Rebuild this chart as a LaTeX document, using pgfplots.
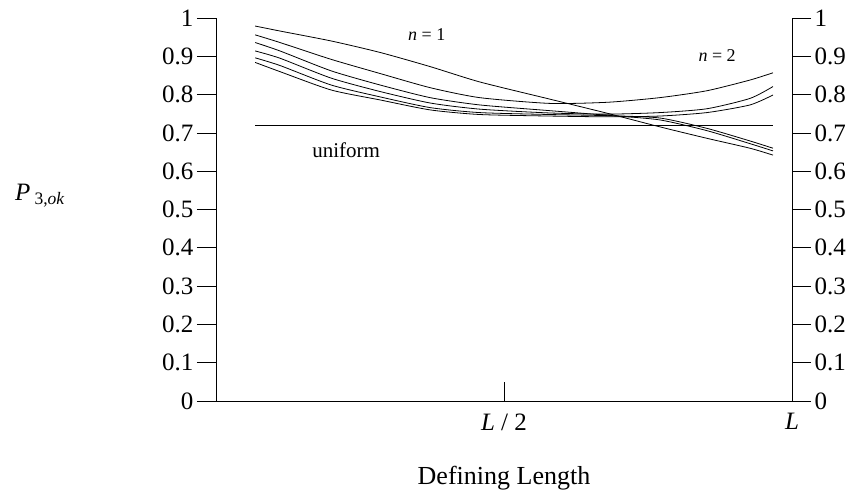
\documentclass[border=0pt]{standalone}
\usepackage{pgfplots}
\pgfplotsset{compat=1.18}
\usepackage{fontspec}
\setmainfont{Liberation Serif}
\pgfplotstableread{
x n1 n2 n3 n4 n5 n6
0.068 0.979 0.956 0.936 0.914 0.896 0.884
0.111 0.966 0.936 0.914 0.895 0.876 0.860
0.200 0.940 0.892 0.862 0.843 0.825 0.812
0.285 0.910 0.855 0.825 0.808 0.794 0.786
0.372 0.873 0.818 0.792 0.778 0.766 0.760
0.458 0.833 0.792 0.773 0.762 0.753 0.748
0.580 0.788 0.777 0.758 0.752 0.748 0.744
0.680 0.751 0.780 0.746 0.749 0.745 0.742
0.770 0.716 0.792 0.734 0.753 0.739 0.744
0.852 0.686 0.810 0.706 0.763 0.712 0.753
0.927 0.660 0.838 0.672 0.790 0.679 0.773
0.967 0.642 0.857 0.653 0.821 0.660 0.799
}\curves
\pgfplotsset{base/.style={
  scale only axis, width=576pt, height=383pt,
  xmin=0, xmax=1, ymin=0, ymax=1,
  at={(216pt,-401pt)}, anchor=south west,
  axis line style={line width=0.8pt, black},
  major tick length=19pt,
  every tick/.style={line width=0.8pt, black},
  tick label style={font=\fontsize{25}{30}\selectfont},
  clip=false}}
\begin{document}
\begin{tikzpicture}[x=1pt,y=1pt]
\useasboundingbox (0,0) rectangle (855,-495);
\begin{axis}[base,
  axis x line*=bottom, axis y line*=left, tick align=outside,
  xtick=\empty,
  ytick={0,0.1,0.2,0.3,0.4,0.5,0.6,0.7,0.8,0.9,1},
  yticklabels={0,0.1,0.2,0.3,0.4,0.5,0.6,0.7,0.8,0.9,1}]
\addplot[black, line width=0.8pt, smooth, tension=0.4] table[x=x,y=n1]{\curves};
\addplot[black, line width=0.8pt, smooth, tension=0.4] table[x=x,y=n2]{\curves};
\addplot[black, line width=0.8pt, smooth, tension=0.4] table[x=x,y=n3]{\curves};
\addplot[black, line width=0.8pt, smooth, tension=0.4] table[x=x,y=n4]{\curves};
\addplot[black, line width=0.8pt, smooth, tension=0.4] table[x=x,y=n5]{\curves};
\addplot[black, line width=0.8pt, smooth, tension=0.4] table[x=x,y=n6]{\curves};
\addplot[black, line width=0.8pt] coordinates {(0.068,0.72) (0.967,0.72)};
\node[font=\fontsize{18}{22}\selectfont] at (axis cs:0.366,0.956) {\textit{n} = 1};
\node[font=\fontsize{18}{22}\selectfont] at (axis cs:0.870,0.903) {\textit{n} = 2};
\node[font=\fontsize{21}{25}\selectfont] at (axis cs:0.226,0.655) {uniform};
\end{axis}
\begin{axis}[base,
  axis x line=none, axis y line*=right, tick align=outside,
  xtick=\empty,
  ytick={0,0.1,0.2,0.3,0.4,0.5,0.6,0.7,0.8,0.9,1},
  yticklabels={0,0.1,0.2,0.3,0.4,0.5,0.6,0.7,0.8,0.9,1}]
\end{axis}
\begin{axis}[base,
  axis y line=none, axis x line*=bottom, tick align=inside,
  ytick=\empty,
  xtick={0.5,1},
  xticklabel style={yshift=-9pt},
  xticklabels={\textit{L} / 2, \textit{L}}]
\end{axis}
\node[font=\fontsize{25}{30}\selectfont] at (40,-196) {\textit{P}\,\textsubscript{3,\textit{ok}}};
\node[font=\fontsize{26}{30}\selectfont] at (504,-478) {Defining Length};
\end{tikzpicture}
\end{document}
